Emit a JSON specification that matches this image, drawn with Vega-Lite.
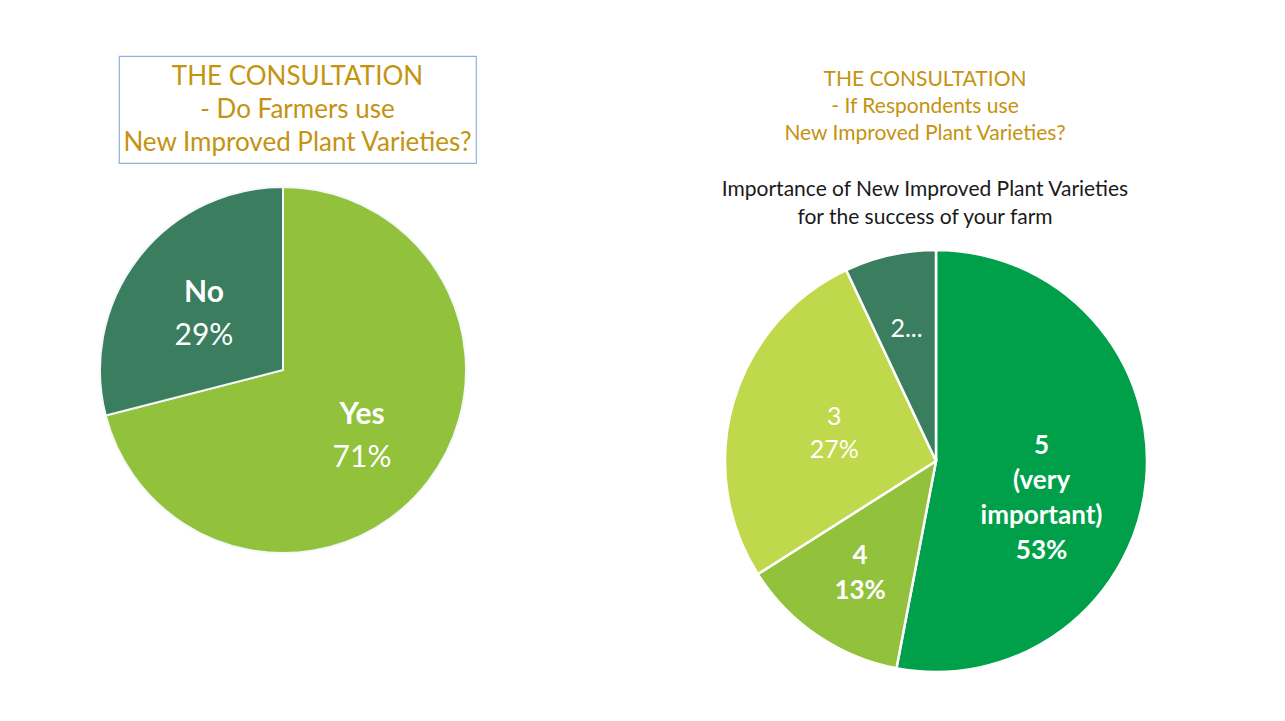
{
  "$schema": "https://vega.github.io/schema/vega-lite/v6.json",
  "background": "white",
  "padding": {"left": 96, "top": 55, "right": 130, "bottom": 45},
  "autosize": {"type": "pad"},
  "bounds": "full",
  "spacing": 243,
  "resolve": {"scale": {"color": "independent", "theta": "independent"}},
  "config": {"view": {"stroke": null}, "font": "Lato"},
  "hconcat": [
    {
      "vconcat": [
        {
          "width": 357,
          "height": 107,
          "view": {"stroke": "#8fb3dc", "strokeWidth": 1.2},
          "data": {"values": [{"title": "left"}]},
          "mark": {"type": "text", "font": "Lato", "fontSize": 26, "lineHeight": 33, "color": "#C4930F", "align": "center", "baseline": "middle", "dy": -33},
          "encoding": {"text": {"value": ["THE CONSULTATION", "- Do Farmers use", "New Improved Plant Varieties?"]}}
        },
        {
          "width": 328,
          "height": 366,
          "data": {"values": [
            {"cat": "Yes", "pct": 71, "lab": "71%"},
            {"cat": "No", "pct": 29, "lab": "29%"}
          ]},
          "encoding": {
            "theta": {"field": "pct", "type": "quantitative", "stack": true},
            "order": {"field": "cat", "type": "nominal", "sort": "descending"},
            "detail": {"field": "cat", "type": "nominal"}
          },
          "layer": [
            {
              "mark": {"type": "arc", "radius": 183, "stroke": "#f4f8fb", "strokeWidth": 2},
              "encoding": {"color": {"field": "cat", "type": "nominal", "scale": {"domain": ["Yes", "No"], "range": ["#92C13C", "#3A7D5F"]}, "legend": null}}
            },
            {
              "mark": {"type": "text", "radius": 100, "font": "Lato", "fontSize": 30, "fontWeight": "bold", "fill": "white", "align": "center", "baseline": "middle", "dy": -16},
              "encoding": {"text": {"field": "cat", "type": "nominal"}}
            },
            {
              "mark": {"type": "text", "radius": 100, "font": "Lato", "fontSize": 30, "fill": "white", "align": "center", "baseline": "middle", "dy": 27},
              "encoding": {"text": {"field": "lab", "type": "nominal"}}
            }
          ]
        }
      ],
      "spacing": 24,
      "bounds": "flush"
    },
    {
      "vconcat": [
        {
          "width": 400,
          "height": 100,
          "data": {"values": [{"title": "right"}]},
          "mark": {"type": "text", "font": "Lato", "fontSize": 21, "lineHeight": 27, "color": "#C4930F", "align": "center", "baseline": "middle", "dy": -26},
          "encoding": {"text": {"value": ["THE CONSULTATION", "- If Respondents use", "New Improved Plant Varieties?"]}}
        },
        {
          "width": 400,
          "height": 94,
          "data": {"values": [{"title": "sub"}]},
          "mark": {"type": "text", "font": "Lato", "fontSize": 21, "lineHeight": 28, "color": "#1a1a1a", "align": "center", "baseline": "middle", "dy": -13},
          "encoding": {"text": {"value": ["Importance of New Improved Plant Varieties", "for the success of your farm"]}}
        },
        {
          "width": 422,
          "height": 422,
          "data": {"values": [
            {"cat": "5", "pct": 53, "lab": "5\n(very\nimportant)\n53%"},
            {"cat": "4", "pct": 13, "lab": "4\n13%"},
            {"cat": "3", "pct": 27, "lab": "3\n27%"},
            {"cat": "2", "pct": 7, "lab": "2..."}
          ]},
          "encoding": {
            "theta": {"field": "pct", "type": "quantitative", "stack": true},
            "order": {"field": "cat", "type": "nominal", "sort": "descending"},
            "detail": {"field": "cat", "type": "nominal"}
          },
          "layer": [
            {
              "mark": {"type": "arc", "radius": 211, "stroke": "white", "strokeWidth": 2.5},
              "encoding": {"color": {"field": "cat", "type": "nominal", "scale": {"domain": ["5", "4", "3", "2"], "range": ["#00A04A", "#92C13C", "#C0D84B", "#3A7D5F"]}, "legend": null}}
            },
            {
              "mark": {"type": "text", "radius": 106, "dy": -25, "font": "Lato", "fontSize": 26, "fontWeight": "bold", "lineHeight": 35, "lineBreak": "\n", "fill": "white", "align": "center", "baseline": "middle"},
              "encoding": {
                "text": {"field": "lab", "type": "nominal"},
                "opacity": {"condition": {"test": "datum.cat === '5'", "value": 1}, "value": 0}
              }
            },
            {
              "mark": {"type": "text", "radius": 135, "dy": -17, "font": "Lato", "fontSize": 26, "fontWeight": "bold", "lineHeight": 35, "lineBreak": "\n", "fill": "white", "align": "center", "baseline": "middle"},
              "encoding": {
                "text": {"field": "lab", "type": "nominal"},
                "opacity": {"condition": {"test": "datum.cat === '4'", "value": 1}, "value": 0}
              }
            },
            {
              "mark": {"type": "text", "radius": 106, "dy": -14, "font": "Lato", "fontSize": 25, "lineHeight": 33, "lineBreak": "\n", "fill": "white", "align": "center", "baseline": "middle"},
              "encoding": {
                "text": {"field": "lab", "type": "nominal"},
                "opacity": {"condition": {"test": "datum.cat === '3'", "value": 1}, "value": 0}
              }
            },
            {
              "mark": {"type": "text", "radius": 135, "font": "Lato", "fontSize": 25, "lineBreak": "\n", "fill": "white", "align": "center", "baseline": "middle"},
              "encoding": {
                "text": {"field": "lab", "type": "nominal"},
                "opacity": {"condition": {"test": "datum.cat === '2'", "value": 1}, "value": 0}
              }
            }
          ]
        }
      ],
      "spacing": 0,
      "bounds": "flush"
    }
  ]
}
